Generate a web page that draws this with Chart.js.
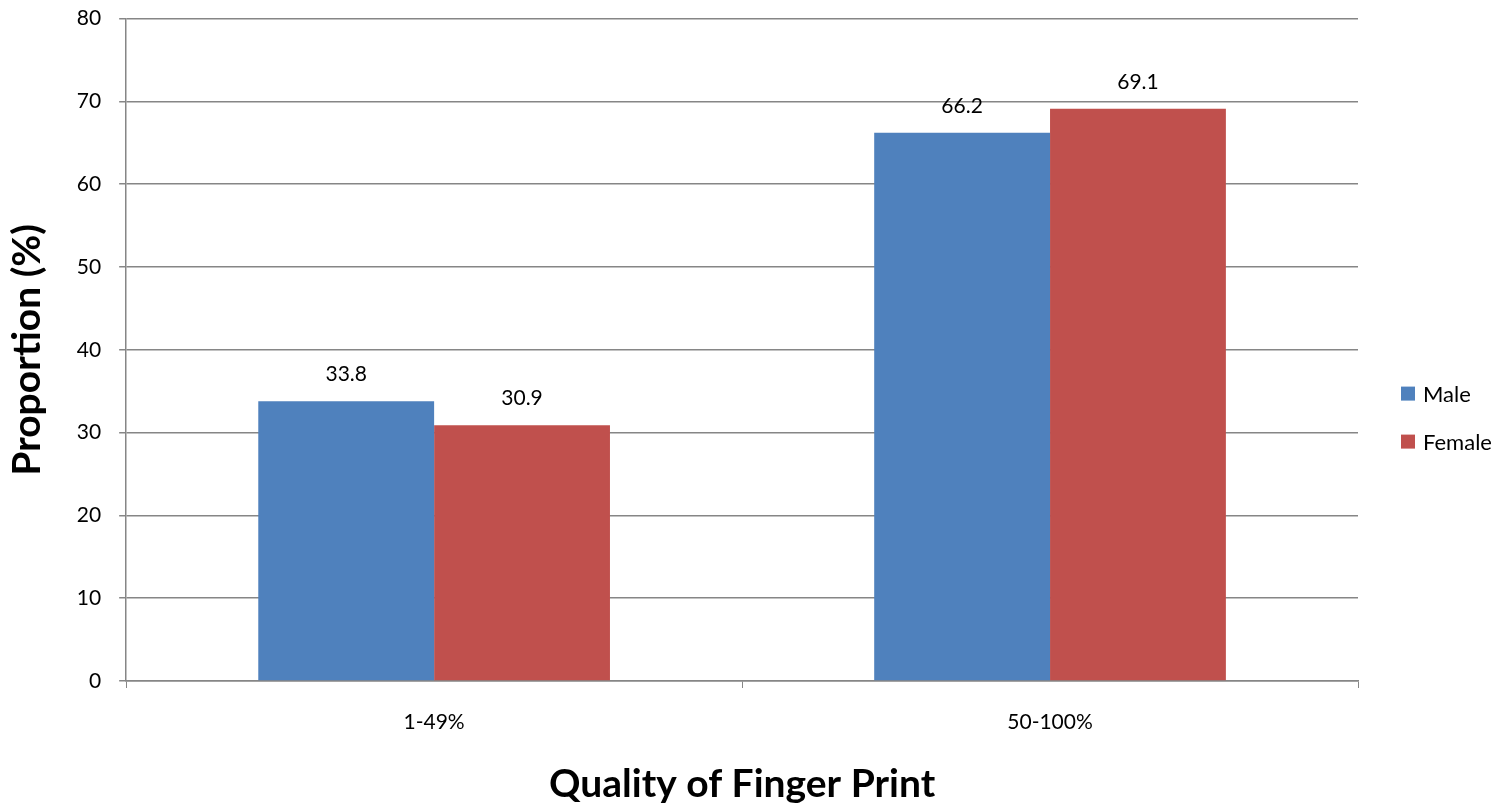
<!DOCTYPE html>
<html lang="en">
<head>
    <meta charset="UTF-8">
    <title>Quality of Finger Print</title>
    <script src="https://cdn.jsdelivr.net/npm/chart.js"></script>
    <style>
        body { margin: 0; background: #fff; overflow: hidden; }
        /* canvas is a bit taller and pulled up so the plot top sits where the original has it */
        #wrap { width: 1507px; height: 821px; position: relative; top: -12px; }
    </style>
</head>
<body>
<div id="wrap"><canvas id="chart"></canvas></div>

<script>
    const categories = ['1-49%', '50-100%'];
    const maleValues = [33.8, 66.2];
    const femaleValues = [30.9, 69.1];
    const yTicks = [0, 10, 20, 30, 40, 50, 60, 70, 80];

    const fontFamily = "Lato, 'Open Sans', sans-serif";
    const gridGray = '#868686';

    // draws the value above each bar
    const valueLabels = {
        id: 'valueLabels',
        afterDatasetsDraw(chart) {
            const ctx = chart.ctx;
            ctx.save();
            ctx.fillStyle = '#000';
            ctx.font = '21px ' + fontFamily;
            ctx.textAlign = 'center';
            ctx.textBaseline = 'bottom';
            chart.data.datasets.forEach((ds, i) => {
                chart.getDatasetMeta(i).data.forEach((bar, j) => {
                    ctx.fillText(ds.data[j].toFixed(1), bar.x, bar.y - 16);
                });
            });
            ctx.restore();
        }
    };

    // legend on the right, like the office chart (square + label)
    const sideLegend = {
        id: 'sideLegend',
        afterDraw(chart) {
            const ctx = chart.ctx;
            const x = chart.chartArea.right + 43;
            let y = chart.scales.y.getPixelForValue(80) + 375;
            ctx.save();
            ctx.font = '22px ' + fontFamily;
            ctx.textBaseline = 'middle';
            chart.data.datasets.forEach(ds => {
                ctx.fillStyle = ds.backgroundColor;
                ctx.fillRect(x, y - 7, 14, 14);
                ctx.fillStyle = '#000';
                ctx.fillText(ds.label, x + 22, y + 1);
                y += 48;
            });
            ctx.restore();
        }
    };

    new Chart(document.getElementById('chart'), {
        type: 'bar',
        data: {
            labels: categories,
            datasets: [
                { label: 'Male', data: maleValues, backgroundColor: '#4F81BD' },
                { label: 'Female', data: femaleValues, backgroundColor: '#C0504D' }
            ]
        },
        options: {
            responsive: true,
            maintainAspectRatio: false,
            animation: false,
            layout: { autoPadding: false, padding: { top: 6, right: 149, left: 4, bottom: 1 } },
            datasets: { bar: { categoryPercentage: 0.571, barPercentage: 1.0 } },
            plugins: {
                legend: { display: false },
                tooltip: { enabled: false }
            },
            scales: {
                x: {
                    grid: { drawOnChartArea: false, drawTicks: true, tickLength: 7, color: gridGray },
                    border: { color: gridGray, width: 1.5 },
                    ticks: { color: '#000', font: { family: fontFamily, size: 21 }, padding: 22 },
                    title: {
                        display: true,
                        text: 'Quality of Finger Print',
                        color: '#000',
                        font: { family: fontFamily, size: 39, weight: 'bold' },
                        padding: { top: 4, bottom: 0 }
                    }
                },
                y: {
                    min: 0,
                    max: 80,
                    afterBuildTicks(axis) { axis.ticks = yTicks.map(v => ({ value: v })); },
                    grid: { color: gridGray, lineWidth: 1.5, tickLength: 7 },
                    border: { color: gridGray, width: 1.5 },
                    ticks: { color: '#000', font: { family: fontFamily, size: 21 }, padding: 18 },
                    title: {
                        display: true,
                        text: 'Proportion (%)',
                        color: '#000',
                        font: { family: fontFamily, size: 39, weight: 'bold' },
                        padding: { top: 0, bottom: 8 }
                    }
                }
            }
        },
        plugins: [valueLabels, sideLegend]
    });
</script>
</body>
</html>
